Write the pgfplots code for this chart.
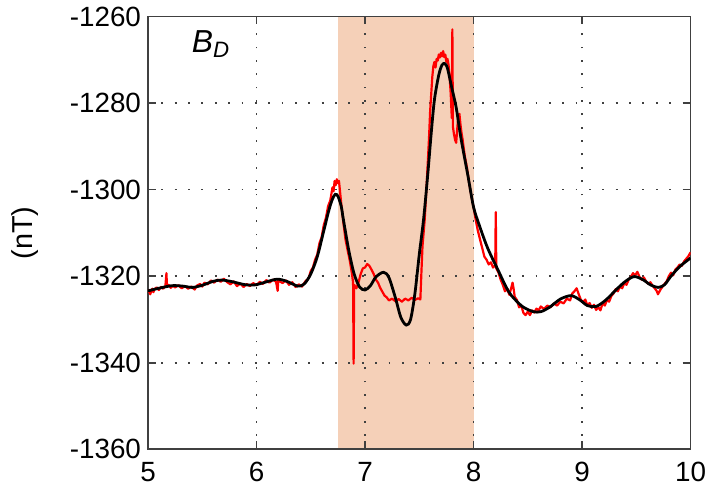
\documentclass[border=0pt]{standalone}
\usepackage{pgfplots}
\pgfplotsset{compat=1.18}
\usepackage{fontspec}
\setmainfont{Liberation Sans}
\definecolor{shade}{RGB}{245,208,184}
\definecolor{axgray}{RGB}{64,64,64}
\begin{document}
\begin{tikzpicture}
\begin{axis}[
  set layers,
  scale only axis,
  width=272bp, height=217bp,
  xmin=5, xmax=10, ymin=-1360, ymax=-1260,
  xtick={5,6,7,8,9,10}, ytick={-1360,-1340,-1320,-1300,-1280,-1260},
  /pgf/number format/assume math mode=true,
  /pgf/number format/set thousands separator={},
  tick align=inside,
  major tick length=4bp,
  tick style={axgray, line width=0.8bp},
  axis line style={axgray, line width=0.8bp},
  grid=major,
  major grid style={black!75, line width=0.9bp, dash pattern=on 0.9bp off 5.8bp},
  ticklabel style={font=\fontsize{14}{16}\selectfont},
  xticklabel style={yshift=-3bp, inner xsep=0pt},
  ylabel={\rule{0pt}{16.5bp}(nT)},
  ylabel style={font=\fontsize{14.5}{16}\selectfont, inner sep=0pt, yshift=12bp},
]
\addplot[fill=shade, draw=none, on layer=axis background] coordinates {(6.75,-1360) (8,-1360) (8,-1260) (6.75,-1260)} -- cycle;
\addplot[red, line width=1.1bp, line join=round] coordinates {
(5.00,-1323.8) (5.01,-1323.2) (5.02,-1324.2) (5.03,-1323.5) (5.04,-1322.9) (5.05,-1323.7) (5.06,-1323.0) (5.08,-1322.6) (5.10,-1323.2) (5.12,-1322.5) (5.14,-1322.9) (5.16,-1322.3) (5.17,-1319.3) (5.175,-1322.5) (5.19,-1322.0) (5.21,-1322.7) (5.23,-1322.2) (5.25,-1322.6) (5.28,-1322.1) (5.31,-1322.8) (5.34,-1322.3) (5.37,-1322.9) (5.40,-1322.4) (5.43,-1323.1) (5.45,-1322.2) (5.48,-1321.8) (5.50,-1322.4) (5.52,-1321.5) (5.55,-1321.9) (5.58,-1321.0) (5.61,-1321.5) (5.64,-1320.8) (5.67,-1321.3) (5.70,-1320.6) (5.73,-1321.4) (5.76,-1321.9) (5.79,-1321.2) (5.82,-1322.3) (5.85,-1321.7) (5.88,-1322.5) (5.91,-1321.8) (5.94,-1322.3) (5.97,-1321.6) (6.00,-1322.1) (6.03,-1321.3) (6.06,-1321.8) (6.09,-1320.9) (6.12,-1321.5) (6.15,-1320.8) (6.18,-1321.3) (6.195,-1323.4) (6.20,-1321.0) (6.24,-1321.6) (6.27,-1321.0) (6.30,-1322.0) (6.33,-1321.4) (6.36,-1322.5) (6.39,-1321.9) (6.42,-1322.4) (6.45,-1321.2) (6.48,-1320.5) (6.50,-1318.8) (6.52,-1318.0) (6.54,-1316.2) (6.56,-1315.0) (6.58,-1312.4) (6.60,-1311.0) (6.62,-1308.2) (6.64,-1306.5) (6.66,-1303.8) (6.68,-1302.5) (6.70,-1299.5) (6.71,-1300.4) (6.72,-1298.0) (6.73,-1299.0) (6.74,-1297.6) (6.75,-1298.5) (6.76,-1298.0) (6.77,-1300.5) (6.78,-1303.0) (6.80,-1307.5) (6.82,-1311.5) (6.84,-1314.0) (6.86,-1316.5) (6.88,-1319.5) (6.89,-1321.5) (6.895,-1340.2) (6.90,-1322.0) (6.92,-1322.8) (6.94,-1321.5) (6.96,-1319.5) (6.98,-1318.2) (7.00,-1318.0) (7.02,-1317.2) (7.04,-1317.6) (7.06,-1318.5) (7.08,-1319.5) (7.10,-1320.8) (7.12,-1321.5) (7.14,-1322.7) (7.16,-1323.6) (7.18,-1324.5) (7.20,-1324.9) (7.22,-1325.6) (7.25,-1325.2) (7.28,-1325.8) (7.31,-1325.3) (7.34,-1325.9) (7.37,-1325.2) (7.40,-1325.6) (7.43,-1325.0) (7.46,-1325.5) (7.49,-1325.1) (7.51,-1325.4) (7.52,-1319.0) (7.53,-1313.0) (7.55,-1307.0) (7.57,-1298.0) (7.59,-1288.0) (7.60,-1282.0) (7.61,-1278.0) (7.62,-1274.0) (7.63,-1271.5) (7.64,-1270.5) (7.65,-1271.8) (7.66,-1269.8) (7.67,-1270.2) (7.68,-1268.8) (7.69,-1269.5) (7.70,-1268.4) (7.71,-1269.2) (7.72,-1268.0) (7.73,-1269.4) (7.74,-1268.8) (7.75,-1270.5) (7.76,-1269.8) (7.77,-1271.2) (7.78,-1274.0) (7.79,-1278.0) (7.80,-1283.5) (7.805,-1263.0) (7.81,-1285.5) (7.82,-1287.2) (7.83,-1288.5) (7.84,-1289.2) (7.85,-1286.0) (7.86,-1283.0) (7.87,-1282.5) (7.88,-1285.0) (7.89,-1287.0) (7.90,-1288.5) (7.91,-1290.5) (7.92,-1292.3) (7.94,-1295.0) (7.96,-1298.5) (7.98,-1301.5) (8.00,-1304.0) (8.02,-1307.0) (8.04,-1309.5) (8.06,-1311.5) (8.08,-1313.5) (8.10,-1315.5) (8.12,-1316.2) (8.14,-1317.3) (8.16,-1316.8) (8.18,-1318.0) (8.20,-1317.5) (8.205,-1305.2) (8.21,-1318.2) (8.23,-1319.2) (8.25,-1320.8) (8.27,-1322.0) (8.29,-1323.5) (8.31,-1322.8) (8.33,-1324.3) (8.35,-1322.5) (8.36,-1321.5) (8.37,-1323.0) (8.38,-1324.8) (8.40,-1325.5) (8.42,-1327.2) (8.44,-1326.8) (8.46,-1328.5) (8.48,-1329.0) (8.50,-1328.2) (8.52,-1329.0) (8.54,-1327.9) (8.56,-1328.4) (8.58,-1327.5) (8.60,-1327.9) (8.62,-1327.0) (8.65,-1327.6) (8.68,-1326.8) (8.71,-1327.2) (8.74,-1326.3) (8.77,-1326.8) (8.80,-1325.9) (8.83,-1326.3) (8.86,-1325.2) (8.89,-1325.6) (8.91,-1324.0) (8.93,-1323.5) (8.95,-1322.8) (8.97,-1324.2) (8.99,-1325.5) (9.01,-1326.0) (9.03,-1325.4) (9.05,-1326.8) (9.07,-1326.2) (9.09,-1327.3) (9.11,-1326.6) (9.13,-1327.8) (9.15,-1327.2) (9.17,-1327.9) (9.19,-1326.2) (9.21,-1326.8) (9.23,-1325.5) (9.25,-1325.9) (9.27,-1324.6) (9.29,-1324.0) (9.31,-1323.0) (9.33,-1323.5) (9.35,-1322.4) (9.37,-1322.8) (9.39,-1321.6) (9.41,-1322.0) (9.43,-1320.8) (9.45,-1320.2) (9.47,-1319.3) (9.49,-1319.8) (9.51,-1319.0) (9.53,-1320.2) (9.55,-1320.8) (9.57,-1320.3) (9.59,-1321.2) (9.61,-1321.8) (9.63,-1321.4) (9.65,-1322.2) (9.67,-1322.8) (9.69,-1323.5) (9.70,-1324.2) (9.72,-1323.2) (9.74,-1322.5) (9.76,-1321.8) (9.78,-1321.2) (9.80,-1320.0) (9.82,-1319.2) (9.84,-1319.8) (9.86,-1318.5) (9.88,-1318.0) (9.90,-1317.3) (9.92,-1317.6) (9.94,-1316.6) (9.96,-1316.0) (9.98,-1315.4) (10.00,-1314.5)
};
\addplot[black, line width=1.4bp, smooth, tension=0.5] coordinates {
(5.00,-1323.4) (5.10,-1322.8) (5.22,-1322.2) (5.32,-1322.3) (5.41,-1322.6) (5.50,-1322.1) (5.60,-1321.2) (5.68,-1320.9) (5.78,-1321.3) (5.90,-1322.0) (5.99,-1322.0) (6.08,-1321.4) (6.19,-1320.7) (6.28,-1321.2) (6.38,-1322.3) (6.44,-1321.8) (6.50,-1319.5) (6.56,-1315.5) (6.62,-1309.5) (6.67,-1304.5) (6.70,-1302.2) (6.725,-1301.1) (6.75,-1301.5) (6.78,-1303.8) (6.80,-1306.8) (6.85,-1314.0) (6.90,-1319.5) (6.95,-1322.5) (7.00,-1323.2) (7.05,-1322.2) (7.10,-1320.2) (7.17,-1319.1) (7.22,-1320.3) (7.28,-1325.0) (7.33,-1329.5) (7.38,-1331.3) (7.42,-1330.0) (7.46,-1324.0) (7.50,-1315.0) (7.54,-1306.8) (7.58,-1296.0) (7.61,-1287.0) (7.64,-1279.2) (7.68,-1273.5) (7.71,-1271.2) (7.736,-1270.9) (7.76,-1272.0) (7.80,-1276.5) (7.84,-1281.0) (7.88,-1287.5) (7.92,-1293.0) (7.95,-1297.0) (8.00,-1304.0) (8.05,-1308.0) (8.13,-1313.5) (8.23,-1318.8) (8.30,-1322.5) (8.35,-1324.5) (8.45,-1327.0) (8.55,-1328.2) (8.62,-1328.2) (8.70,-1327.2) (8.80,-1325.3) (8.90,-1324.5) (8.98,-1325.5) (9.05,-1326.8) (9.13,-1327.0) (9.22,-1325.5) (9.32,-1323.0) (9.40,-1321.2) (9.48,-1320.1) (9.56,-1320.8) (9.63,-1322.0) (9.70,-1322.6) (9.76,-1322.0) (9.82,-1320.0) (9.90,-1317.8) (10.0,-1315.8)
};
\node[font=\fontsize{16}{18}\selectfont\itshape, anchor=base west, inner sep=0pt] at (axis cs:5.40,-1268.4) {B\textsubscript{D}};
\end{axis}
\end{tikzpicture}
\end{document}
